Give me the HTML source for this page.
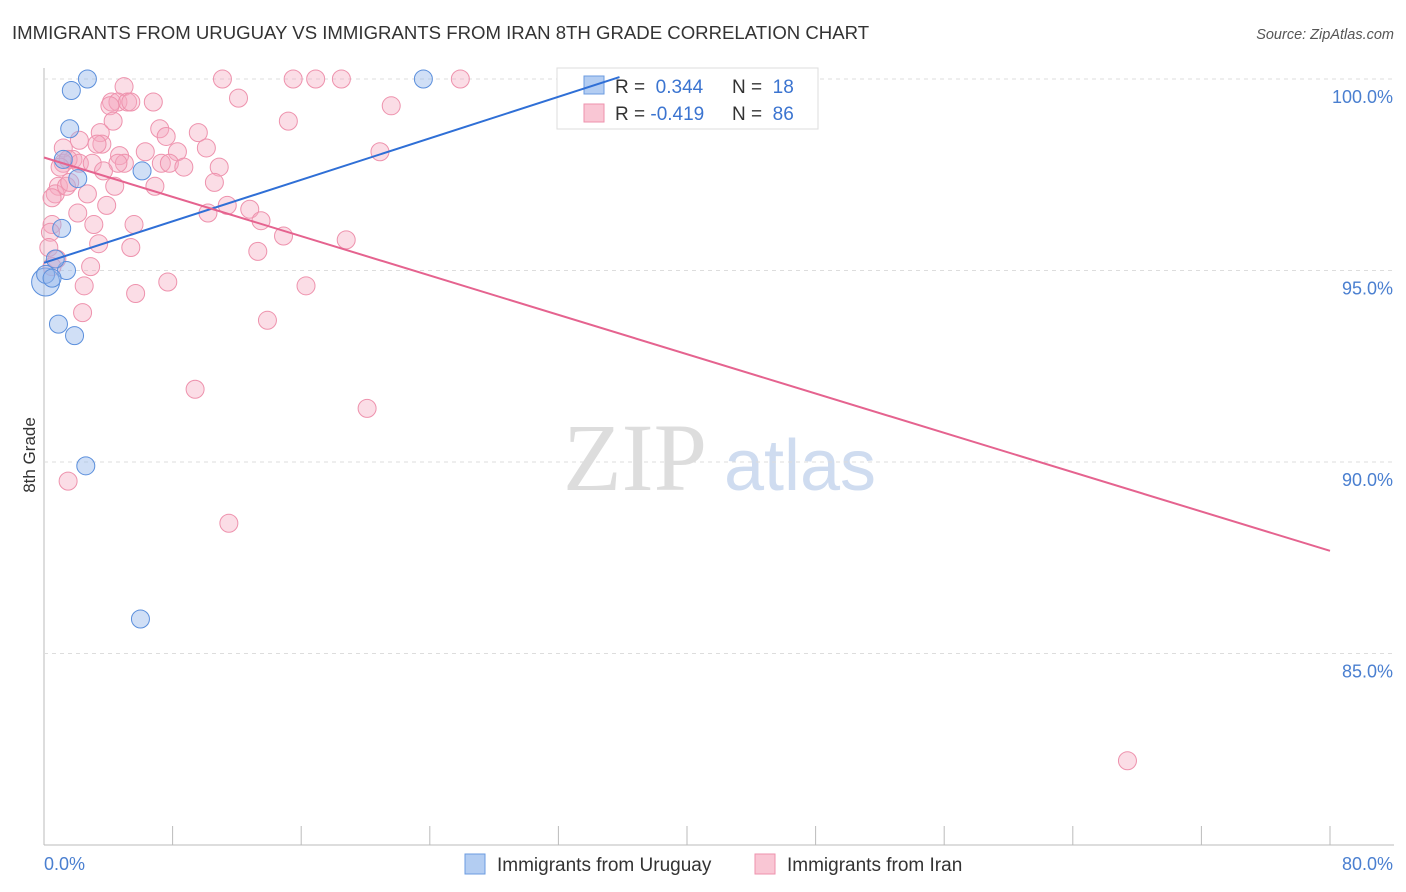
<!DOCTYPE html>
<html><head><meta charset="utf-8"><style>
body{margin:0;background:#fff;font-family:"Liberation Sans",sans-serif;}
svg{display:block}
</style></head><body>
<svg id="chart" width="1406" height="892">
<text x="12" y="39" font-size="18.6" fill="#333">IMMIGRANTS FROM URUGUAY VS IMMIGRANTS FROM IRAN 8TH GRADE CORRELATION CHART</text>
<text x="1394" y="39" font-size="14.5" fill="#555" font-style="italic" text-anchor="end">Source: ZipAtlas.com</text>
<text x="35" y="455" font-size="17" fill="#333" text-anchor="middle" transform="rotate(-90 35 455)">8th Grade</text>
<g><text x="635" y="490" font-size="96" fill="#ddd" font-family="Liberation Serif,serif" text-anchor="middle">ZIP</text><text x="800" y="490" font-size="72" fill="#cfdcf0" text-anchor="middle">atlas</text></g>
<g id="grid"></g>
<g>
<rect x="557" y="68" width="261" height="61" fill="#fff" stroke="#ddd"/>
<rect x="584" y="76" width="20" height="18" fill="#b3cdf2" stroke="#6b9be0"/>
<rect x="584" y="104" width="20" height="18" fill="#f9c6d4" stroke="#ee92ad"/>
<text x="615" y="93" font-size="19" fill="#333">R = <tspan fill="#3b74d0">&#160;0.344</tspan><tspan x="732">N = </tspan><tspan fill="#3b74d0">&#160;18</tspan></text>
<text x="615" y="120" font-size="19" fill="#333">R = <tspan fill="#3b74d0">-0.419</tspan><tspan x="732">N = </tspan><tspan fill="#3b74d0">&#160;86</tspan></text>
</g>
<g id="pts"></g><g id="lines"></g>
<g>
<rect x="465" y="854" width="20" height="20" fill="#b3cdf2" stroke="#6b9be0"/>
<text x="497" y="871" font-size="19" fill="#333">Immigrants from Uruguay</text>
<rect x="755" y="854" width="20" height="20" fill="#f9c6d4" stroke="#ee92ad"/>
<text x="787" y="871" font-size="19" fill="#333">Immigrants from Iran</text>
</g>
</svg>
<script>
const yTicks=[100,95,90,85];
const xTickLabels=["0.0%","80.0%"];
const uruguayX=[2.7,1.7,23.6,1.6,1.2,2.1,6.1,1.1,0.1,1.4,0.7,0.1,0.9,1.9,2.6,6.0,0.5];
const uruguayY=[100,99.7,100,98.7,97.9,97.4,97.6,96.1,94.7,95.0,95.3,94.9,93.6,93.3,89.9,85.9,94.8];
const uruguaySize=[9,9,9,9,9,9,9,9,14,9,9,9,9,9,9,9,9];
const iranX=[11.1,15.5,16.9,18.5,25.9,4.98,12.1,21.6,6.8,4.2,4.6,5.2,5.4,4.1,15.2,4.3,7.2,9.6,7.6,2.2,3.5,3.6,1.2,3.3,8.3,6.3,10.1,1.8,1.2,1.5,2.2,3.0,4.7,5.0,4.6,3.7,7.3,7.8,8.7,10.9,1.0,0.9,0.7,1.4,1.6,2.7,4.4,6.9,10.6,20.9,0.5,3.9,2.1,3.1,5.6,10.2,12.8,13.5,11.4,0.5,0.4,14.9,18.8,3.4,5.4,13.3,0.3,0.8,2.9,0.5,2.5,7.7,16.3,5.7,2.4,13.9,9.4,20.1,1.5,11.5,67.4];
const iranY=[100,100,100,100,100,99.8,99.5,99.3,99.4,99.4,99.4,99.4,99.4,99.3,98.9,98.9,98.7,98.6,98.5,98.4,98.6,98.3,98.2,98.3,98.1,98.1,98.2,97.9,97.8,97.9,97.8,97.8,98.0,97.8,97.8,97.6,97.8,97.8,97.7,97.7,97.7,97.2,97.0,97.2,97.3,97.0,97.2,97.2,97.3,98.1,96.9,96.7,96.5,96.2,96.2,96.5,96.6,96.3,96.7,96.2,96.0,95.9,95.8,95.7,95.6,95.5,95.6,95.3,95.1,95.1,94.6,94.7,94.6,94.4,93.9,93.7,91.9,91.4,89.5,88.4,82.2];
const uruguayLine=[0,95.2,35.8,100.05];
const iranLine=[0,97.95,80,87.68];
function X(v){return 44+v/80*1286;}
function Y(v){return 79+(100-v)*38.3;}
const ns="http://www.w3.org/2000/svg";
function mk(t,a,p){const e=document.createElementNS(ns,t);for(const k in a)e.setAttribute(k,a[k]);p.appendChild(e);return e;}
const grid=document.getElementById('grid');
mk('line',{x1:44,y1:68,x2:44,y2:845,stroke:'#bbb'},grid);
mk('line',{x1:44,y1:845,x2:1394,y2:845,stroke:'#bbb'},grid);
yTicks.forEach(v=>{
 const l=mk('line',{x1:44,x2:1394,y1:Y(v),y2:Y(v),stroke:'#ddd','stroke-dasharray':'4,4'},grid);
 
 
 const t=mk('text',{x:1393,y:Y(v)+24,'font-size':18,fill:'#4a7fd0','text-anchor':'end'},grid);
 t.textContent=v.toFixed(1)+'%';
 
 
});
for(let i=0;i<=10;i++){
 const x=X(i*8);
 const tk=mk('line',{x1:x,x2:x,y1:826,y2:845,stroke:'#bbb'},grid);
 
 
}
const xl0=mk('text',{x:44,y:870,'font-size':18,fill:'#4a7fd0'},grid);xl0.textContent=xTickLabels[0];


const xl1=mk('text',{x:1393,y:870,'font-size':18,fill:'#4a7fd0','text-anchor':'end'},grid);xl1.textContent=xTickLabels[1];


const pts=document.getElementById('pts');
iranX.forEach((v,i)=>{
 const c=mk('circle',{cx:X(v),cy:Y(iranY[i]),r:9,fill:'rgba(246,170,192,0.4)',stroke:'#ee92ad','stroke-width':1},pts);
 
 
});
uruguayX.forEach((v,i)=>{
 const c=mk('circle',{cx:X(v),cy:Y(uruguayY[i]),r:uruguaySize[i],fill:'rgba(150,185,235,0.45)',stroke:'#5b8fdc','stroke-width':1},pts);
 
 
});
const lines=document.getElementById('lines');
const bl=mk('line',{x1:X(uruguayLine[0]),y1:Y(uruguayLine[1]),x2:X(uruguayLine[2]),y2:Y(uruguayLine[3]),stroke:'#2f6fd6','stroke-width':2},lines);


const pl=mk('line',{x1:X(iranLine[0]),y1:Y(iranLine[1]),x2:X(iranLine[2]),y2:Y(iranLine[3]),stroke:'#e5638f','stroke-width':2},lines);


</script>
</body></html>
